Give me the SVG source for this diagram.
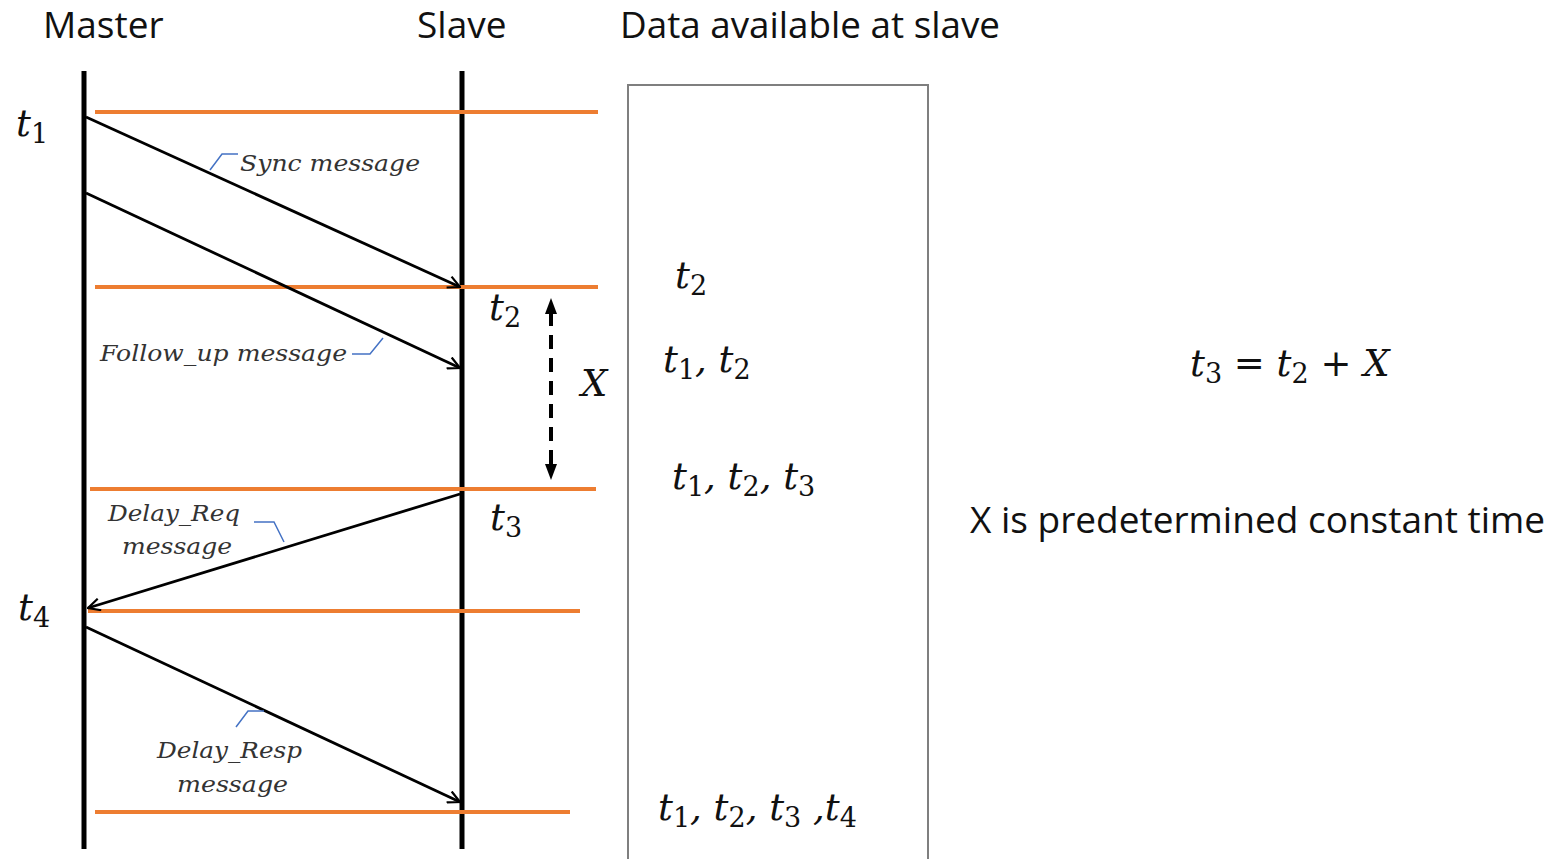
<svg xmlns="http://www.w3.org/2000/svg" width="1554" height="859" viewBox="0 0 1554 859">
<style>
.life{stroke:#000;stroke-width:5;fill:none}
.orange{stroke:#ED7D31;stroke-width:4;fill:none}
.msg{stroke:#000;stroke-width:2.8;fill:none;marker-end:url(#open)}
.lead{stroke:#4472C4;stroke-width:1.5;fill:none}
.hdr{font-family:"Open Sans","Noto Sans",sans-serif;font-size:37px;fill:#111}
.lbl{font-family:"DejaVu Serif","Liberation Serif",serif;font-style:italic;font-size:22px;fill:#333}
.math{font-family:"DejaVu Serif","Liberation Serif",serif;font-style:italic;font-size:37px;fill:#111}
.sub{font-style:normal;font-size:27px}
.op{font-style:normal}
</style>
<defs>
<marker id="open" viewBox="0 0 14 14" refX="13" refY="7" markerWidth="14" markerHeight="14" markerUnits="userSpaceOnUse" orient="auto">
<polyline points="1,1 13,7 1,13" fill="none" stroke="#000" stroke-width="2.2"/>
</marker>
</defs>
<rect width="1554" height="859" fill="#fff"/>

<g id="headers">
<text class="hdr" x="43" y="38">Master</text>
<text class="hdr" x="417" y="38">Slave</text>
<text class="hdr" x="620" y="38" textLength="380" lengthAdjust="spacingAndGlyphs">Data available at slave</text>
</g>

<g id="master"><line class="life" x1="84" y1="71" x2="84" y2="849"/></g>
<g id="slave"><line class="life" x1="462" y1="71" x2="462" y2="849"/></g>

<g id="timelines">
<line class="orange" x1="95" y1="112" x2="598" y2="112"/>
<line class="orange" x1="95" y1="287" x2="598" y2="287"/>
<line class="orange" x1="90" y1="489" x2="596" y2="489"/>
<line class="orange" x1="88" y1="611" x2="580" y2="611"/>
<line class="orange" x1="95" y1="812" x2="570" y2="812"/>
</g>

<g id="connectors">
<line class="msg" x1="86" y1="117" x2="460" y2="287"/>
<line class="msg" x1="86" y1="193" x2="460" y2="368"/>
<line class="msg" x1="460" y1="494" x2="88" y2="608"/>
<line class="msg" x1="86" y1="627" x2="460" y2="802"/>
<line x1="551" y1="312" x2="551" y2="468" stroke="#000" stroke-width="4" stroke-dasharray="14,9"/>
<path d="M551,298 L545,314 L557,314 Z" fill="#000"/>
<path d="M551,480 L545,464 L557,464 Z" fill="#000"/>
</g>

<g id="labels">
<polyline class="lead" points="210,170 222,154 238,154"/>
<text class="lbl" x="240" y="171" textLength="180" lengthAdjust="spacingAndGlyphs">Sync message</text>
<polyline class="lead" points="352,354 370,354 383,338"/>
<text class="lbl" x="100" y="361" textLength="247" lengthAdjust="spacingAndGlyphs">Follow_up message</text>
<polyline class="lead" points="254,522 274,522 284,542"/>
<text class="lbl" x="108" y="521" textLength="132" lengthAdjust="spacingAndGlyphs">Delay_Req</text>
<text class="lbl" x="122" y="554" textLength="110" lengthAdjust="spacingAndGlyphs">message</text>
<polyline class="lead" points="236,727 248,711 264,711"/>
<text class="lbl" x="157" y="758" textLength="145" lengthAdjust="spacingAndGlyphs">Delay_Resp</text>
<text class="lbl" x="177" y="792" textLength="111" lengthAdjust="spacingAndGlyphs">message</text>
</g>

<g id="time-labels">
<text class="math" x="16" y="136">t<tspan class="sub" dy="7">1</tspan></text>
<text class="math" x="18" y="620">t<tspan class="sub" dy="7">4</tspan></text>
<text class="math" x="489" y="320">t<tspan class="sub" dy="7">2</tspan></text>
<text class="math" x="490" y="530">t<tspan class="sub" dy="7">3</tspan></text>
<text class="math" x="581" y="396">X</text>
</g>

<g id="data-box">
<rect x="628" y="85" width="300" height="790" fill="none" stroke="#7f7f7f" stroke-width="2"/>
<text class="math" x="675" y="288">t<tspan class="sub" dy="7">2</tspan></text>
<text class="math" x="663" y="372">t<tspan class="sub" dy="7">1</tspan><tspan dy="-7">, t</tspan><tspan class="sub" dy="7">2</tspan></text>
<text class="math" x="672" y="489">t<tspan class="sub" dy="7">1</tspan><tspan dy="-7">, t</tspan><tspan class="sub" dy="7">2</tspan><tspan dy="-7">, t</tspan><tspan class="sub" dy="7">3</tspan></text>
<text class="math" x="658" y="820">t<tspan class="sub" dy="7">1</tspan><tspan dy="-7">, t</tspan><tspan class="sub" dy="7">2</tspan><tspan dy="-7">, t</tspan><tspan class="sub" dy="7">3</tspan><tspan dy="-7"> ,t</tspan><tspan class="sub" dy="7">4</tspan></text>
</g>

<g id="equation">
<text class="math" x="1190" y="376">t<tspan class="sub" dy="7">3</tspan><tspan class="op" dy="-7"> = </tspan>t<tspan class="sub" dy="7">2</tspan><tspan class="op" dy="-7"> + </tspan>X</text>
<text class="hdr" x="970" y="533">X is predetermined constant time</text>
</g>
</svg>
